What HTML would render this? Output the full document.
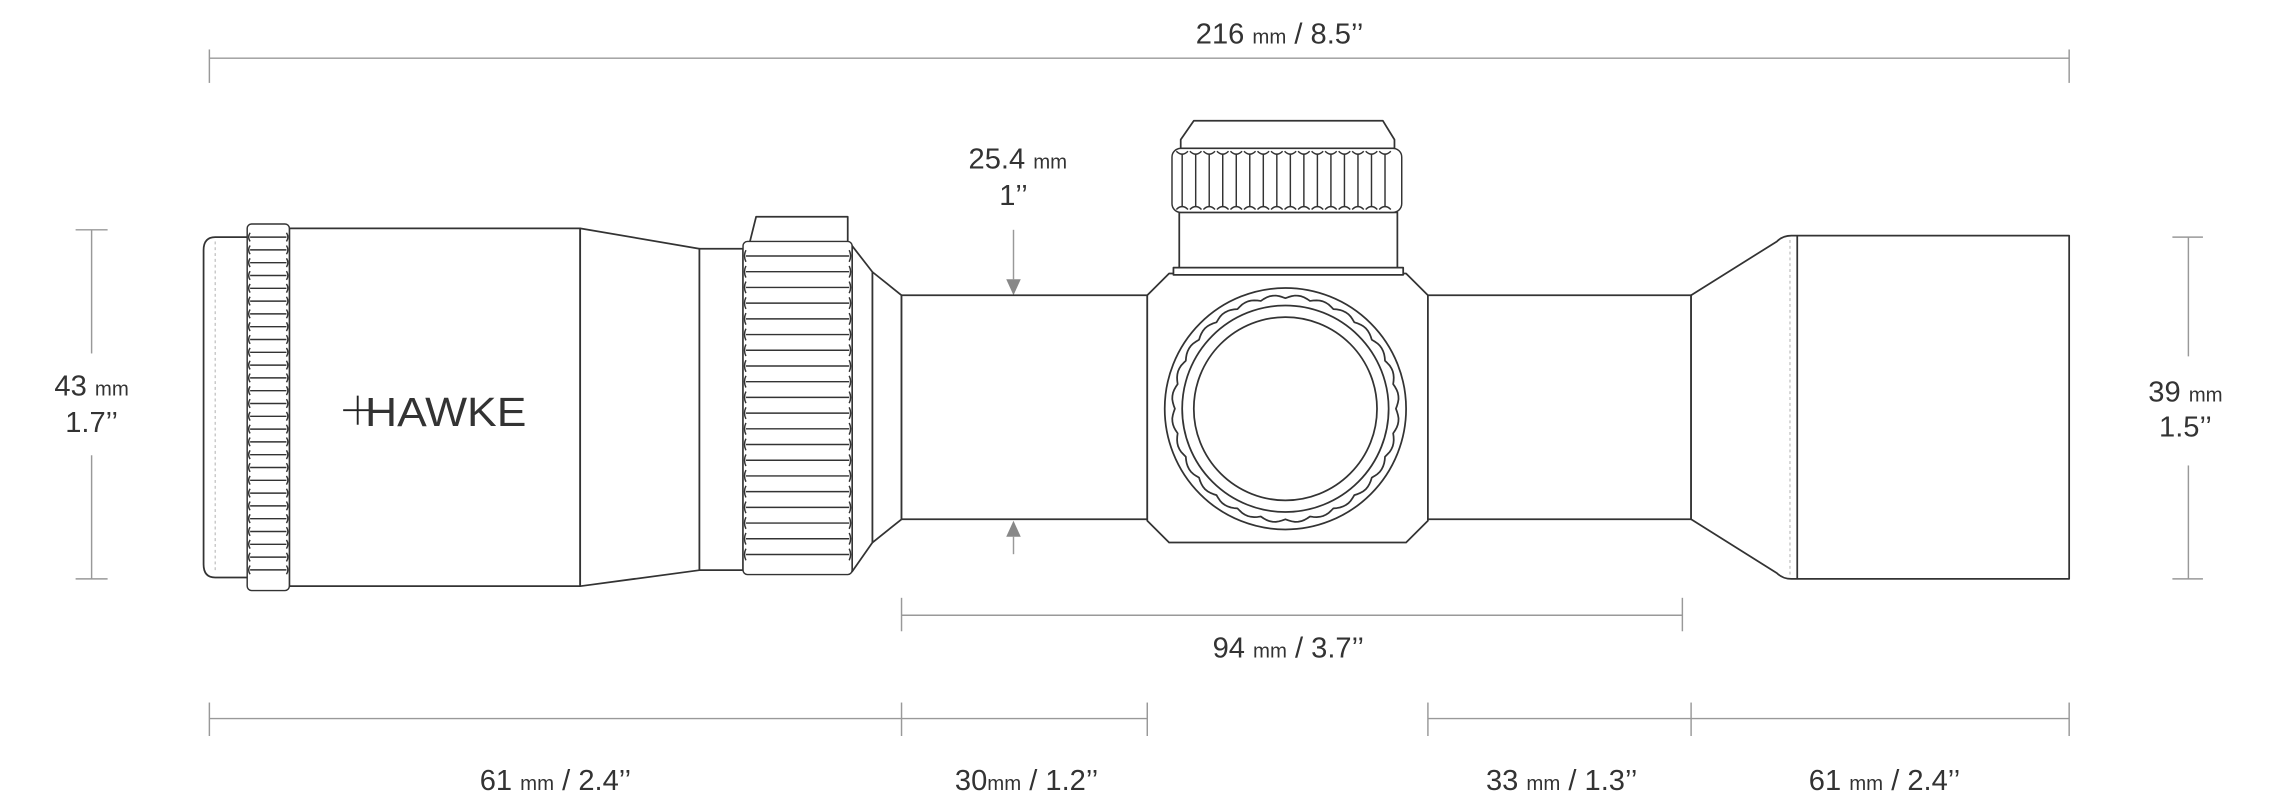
<!DOCTYPE html>
<html><head><meta charset="utf-8">
<style>
html,body{margin:0;padding:0;background:#fff;}
svg{display:block;}
text{font-family:"Liberation Sans",sans-serif;fill:#333;}
</style></head>
<body>
<svg id="s" width="2280" height="800" viewBox="0 0 1568 550" preserveAspectRatio="none" xmlns="http://www.w3.org/2000/svg">
<g stroke="#999" stroke-width="1" fill="none">
  <line x1="144" y1="40" x2="1423" y2="40"/>
  <line x1="144" y1="34" x2="144" y2="57"/>
  <line x1="1423" y1="34" x2="1423" y2="57"/>
  <line x1="52" y1="158" x2="74" y2="158"/>
  <line x1="52" y1="398" x2="74" y2="398"/>
  <line x1="63" y1="158" x2="63" y2="243"/>
  <line x1="63" y1="313" x2="63" y2="398"/>
  <line x1="1494" y1="163" x2="1515" y2="163"/>
  <line x1="1494" y1="398" x2="1515" y2="398"/>
  <line x1="1505" y1="163" x2="1505" y2="245"/>
  <line x1="1505" y1="320" x2="1505" y2="398"/>
  <line x1="620" y1="423" x2="1157" y2="423"/>
  <line x1="620" y1="411" x2="620" y2="434"/>
  <line x1="1157" y1="411" x2="1157" y2="434"/>
  <line x1="144" y1="494" x2="789" y2="494"/>
  <line x1="982" y1="494" x2="1423" y2="494"/>
  <line x1="144" y1="483" x2="144" y2="506"/>
  <line x1="620" y1="483" x2="620" y2="506"/>
  <line x1="789" y1="483" x2="789" y2="506"/>
  <line x1="982" y1="483" x2="982" y2="506"/>
  <line x1="1163" y1="483" x2="1163" y2="506"/>
  <line x1="1423" y1="483" x2="1423" y2="506"/>
  <line x1="697" y1="158" x2="697" y2="192"/>
  <line x1="697" y1="369" x2="697" y2="381"/>
</g>
<polygon points="692,192 702,192 697,203" fill="#888"/>
<polygon points="692,369 702,369 697,358" fill="#888"/>

<g id="scope" stroke="#333" stroke-width="1.2" fill="#fff" stroke-linejoin="round">
  <path d="M170,163 L148,163 Q140,163 140,172 L140,388 Q140,397 148,397 L170,397"/>
  <line x1="148" y1="166" x2="148" y2="394" stroke="#bbb" stroke-width="0.8" stroke-dasharray="2,2"/>
  <rect x="199" y="157" width="200" height="246"/>
  <polygon points="399,157 481,171 481,392 399,403"/>
  <rect x="481" y="171" width="30" height="221"/>
  <polygon points="520,149 583,149 583,169 515,169"/>
  <polygon points="586,169 600,187 600,373 586,393"/>
  <polygon points="600,187 620,203 620,357 600,373"/>
  <rect x="620" y="203" width="169" height="154"/>
  <polygon points="804,188 967,188 982,203 982,358 967,373 804,373 789,358 789,203"/>
  <rect x="807" y="184" width="158" height="5"/>
  <rect x="811" y="146" width="150" height="38"/>
  <polygon points="821,83 951,83 959,96 959,102 812,102 812,96"/>
  <rect x="982" y="203" width="181" height="154"/>
  <path d="M1163,203 L1222,166 Q1226,162 1232,162 L1423,162 L1423,398 L1232,398 Q1226,398 1222,394 L1163,357 Z"/>
  <line x1="1231" y1="165" x2="1231" y2="395" stroke="#bbb" stroke-width="0.8" stroke-dasharray="2,2"/>
  <line x1="1236" y1="162" x2="1236" y2="398"/>
  <circle cx="884" cy="281" r="83"/>
  <path id="wavy" d=""/>
  <circle cx="884" cy="281" r="71"/>
  <circle cx="884" cy="281" r="63"/>
</g>
<g id="knurls" stroke="#333" stroke-width="1" fill="#fff"></g>

<g stroke="#222" stroke-width="1.3"><line x1="236" y1="282" x2="256" y2="282"/><line x1="246" y1="272" x2="246" y2="292"/></g>
<text x="251" y="293" font-size="28" textLength="111" lengthAdjust="spacingAndGlyphs" fill="#222">HAWKE</text>

<text x="880" y="30" text-anchor="middle" font-size="20">216 <tspan font-size="14">mm</tspan> / 8.5’’</text>
<text x="63" y="272" text-anchor="middle" font-size="20">43 <tspan font-size="14">mm</tspan></text>
<text x="63" y="297" text-anchor="middle" font-size="20">1.7’’</text>
<text x="700" y="116" text-anchor="middle" font-size="20">25.4 <tspan font-size="14">mm</tspan></text>
<text x="697" y="141" text-anchor="middle" font-size="20">1’’</text>
<text x="1503" y="276" text-anchor="middle" font-size="20">39 <tspan font-size="14">mm</tspan></text>
<text x="1503" y="300" text-anchor="middle" font-size="20">1.5’’</text>
<text x="886" y="452" text-anchor="middle" font-size="20">94 <tspan font-size="14">mm</tspan> / 3.7’’</text>
<text x="382" y="543" text-anchor="middle" font-size="20">61 <tspan font-size="14">mm</tspan> / 2.4’’</text>
<text x="706" y="543" text-anchor="middle" font-size="20">30<tspan font-size="14">mm</tspan> / 1.2’’</text>
<text x="1074" y="543" text-anchor="middle" font-size="20">33 <tspan font-size="14">mm</tspan> / 1.3’’</text>
<text x="1296" y="543" text-anchor="middle" font-size="20">61 <tspan font-size="14">mm</tspan> / 2.4’’</text>

<script>
(function(){
var NS="http://www.w3.org/2000/svg",g=document.getElementById("knurls");
function el(t,a){var e=document.createElementNS(NS,t);for(var k in a)e.setAttribute(k,a[k]);g.appendChild(e);return e;}
el("rect",{x:170,y:154,width:29,height:252,rx:3});
for(var y=163;y<400;y+=8.8){el("line",{x1:172,y1:y,x2:197,y2:y});
 el("path",{d:"M172,"+(y-3)+" q-2,3 0,6 M197,"+(y-3)+" q2,3 0,6",fill:"none"});}
el("rect",{x:511,y:166,width:75,height:229,rx:3});
for(var y=176;y<392;y+=10.8){el("line",{x1:513,y1:y,x2:584,y2:y});
 el("path",{d:"M513,"+(y-4)+" q-2,4 0,8 M584,"+(y-4)+" q2,4 0,8",fill:"none"});}
el("rect",{x:806,y:102,width:158,height:44,rx:6});
for(var x=813;x<960;x+=9.3){el("line",{x1:x,y1:106,x2:x,y2:142});
 el("path",{d:"M"+(x-4)+",104 q4,4 8,0 M"+(x-4)+",144 q4,-4 8,0",fill:"none"});}
var d="",cx=884,cy=281,n=28;
for(var i=0;i<=n*8;i++){var a=i/(n*8)*Math.PI*2,r=76+2.2*Math.abs(Math.sin(a*n/2));
 d+=(i?"L":"M")+(cx+r*Math.cos(a)).toFixed(1)+","+(cy+r*Math.sin(a)).toFixed(1);}
document.getElementById("wavy").setAttribute("d",d+"Z");
})();
</script>
</svg>
</body></html>
